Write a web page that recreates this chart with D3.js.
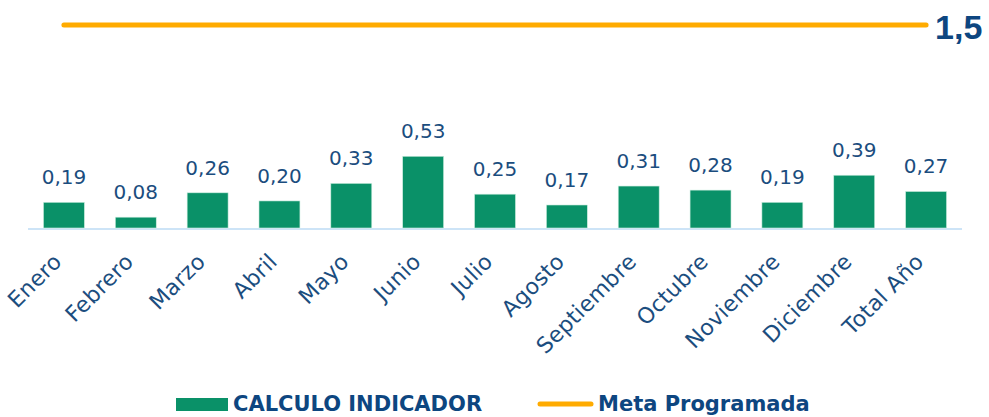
<!DOCTYPE html>
<html>
<head>
<meta charset="utf-8">
<script src="https://cdn.jsdelivr.net/npm/d3@7"></script>
<style>
  body { margin: 0; background: #fff; }
  svg { display: block; }
</style>
</head>
<body>
<svg id="chart" width="989" height="417"></svg>
<script>
const categories = ["Enero", "Febrero", "Marzo", "Abril", "Mayo", "Junio", "Julio",
  "Agosto", "Septiembre", "Octubre", "Noviembre", "Diciembre", "Total Año"];
const calculo = [0.19, 0.08, 0.26, 0.20, 0.33, 0.53, 0.25, 0.17, 0.31, 0.28, 0.19, 0.39, 0.27];
const meta = [1.5, 1.5, 1.5, 1.5, 1.5, 1.5, 1.5, 1.5, 1.5, 1.5, 1.5, 1.5, 1.5];

const svg = d3.select("#chart");
const fmt = (v, d) => v.toFixed(d).replace(".", ",");

// colores
const barColor = "#0a9168";
const metaColor = "#ffab00";
const textColor = "#1b4d7e";
const darkBlue = "#0d4680";

const x = d3.scaleBand()
  .domain(categories)
  .range([28, 962])
  .paddingInner(0.43)
  .paddingOuter(0.215);

const y = d3.scaleLinear().domain([0, 1.5]).range([228, 25]);

// linea base
svg.append("line")
  .attr("x1", 28).attr("x2", 962)
  .attr("y1", y(0) + 1).attr("y2", y(0) + 1)
  .attr("stroke", "#cde4f7")
  .attr("stroke-width", 2);

// barras
svg.selectAll("rect.bar")
  .data(calculo)
  .enter()
  .append("rect")
  .attr("class", "bar")
  .attr("x", (d, i) => x(categories[i]))
  .attr("y", d => y(d))
  .attr("width", x.bandwidth())
  .attr("height", d => y(0) - y(d))
  .attr("fill", barColor)
  .attr("stroke", "#cdeee0")
  .attr("stroke-width", 0.6);

svg.selectAll("text.val")
  .data(calculo)
  .enter()
  .append("text")
  .attr("class", "val")
  .attr("x", (d, i) => x(categories[i]) + x.bandwidth() / 2)
  .attr("y", d => y(d) - 18)
  .attr("text-anchor", "middle")
  .attr("font-family", "DejaVu Sans")
  .attr("font-size", "20px")
  .attr("fill", textColor)
  .text(d => fmt(d, 2));

// meta programada
const line = d3.line()
  .x((d, i) => x(categories[i]) + x.bandwidth() / 2)
  .y(d => y(d));

svg.append("path")
  .datum(meta)
  .attr("d", line)
  .attr("fill", "none")
  .attr("stroke", metaColor)
  .attr("stroke-width", 5)
  .attr("stroke-linecap", "round");

svg.append("text")
  .attr("x", x(categories[categories.length - 1]) + x.bandwidth() / 2 + 9)
  .attr("y", y(meta[meta.length - 1]) + 14)
  .attr("font-family", "Liberation Sans")
  .attr("font-weight", "bold")
  .attr("font-size", "34px")
  .attr("fill", darkBlue)
  .text(fmt(meta[meta.length - 1], 1));

// etiquetas del eje x
svg.selectAll("text.cat")
  .data(categories)
  .enter()
  .append("text")
  .attr("class", "cat")
  .attr("transform", d => `translate(${x(d) + x.bandwidth() / 2 - 1},263) rotate(-45)`)
  .attr("text-anchor", "end")
  .attr("font-family", "DejaVu Sans")
  .attr("font-size", "22px")
  .attr("letter-spacing", "0.3px")
  .attr("fill", textColor)
  .text(d => d);

// leyenda
svg.append("rect")
  .attr("x", 176).attr("y", 398)
  .attr("width", 52).attr("height", 13)
  .attr("fill", barColor);
svg.append("text")
  .attr("x", 233).attr("y", 411)
  .attr("font-family", "DejaVu Sans")
  .attr("font-weight", "bold")
  .attr("font-size", "21px")
  .attr("fill", darkBlue)
  .text("CALCULO INDICADOR");

svg.append("line")
  .attr("x1", 540).attr("x2", 591)
  .attr("y1", 404).attr("y2", 404)
  .attr("stroke", metaColor)
  .attr("stroke-width", 5)
  .attr("stroke-linecap", "round");
svg.append("text")
  .attr("x", 598).attr("y", 411)
  .attr("font-family", "DejaVu Sans")
  .attr("font-weight", "bold")
  .attr("font-size", "21px")
  .attr("fill", darkBlue)
  .text("Meta Programada");
</script>
</body>
</html>
